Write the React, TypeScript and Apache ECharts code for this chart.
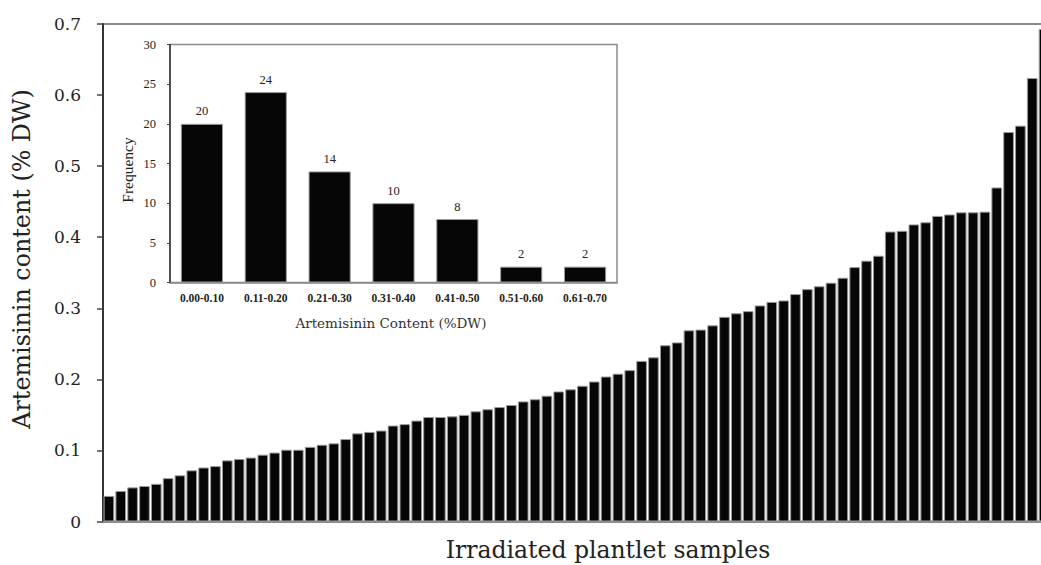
import React, { useEffect, useRef } from "react";
import * as echarts from "echarts";

// Main chart: artemisinin content (% DW) of 80 irradiated plantlet samples, sorted ascending
const contentValues: number[] = [
  0.036, 0.043, 0.048, 0.050, 0.053, 0.061, 0.065, 0.072, 0.076, 0.078,
  0.086, 0.088, 0.090, 0.094, 0.097, 0.101, 0.101, 0.105, 0.108, 0.110,
  0.116, 0.124, 0.126, 0.128, 0.135, 0.137, 0.142, 0.147, 0.147, 0.148,
  0.150, 0.155, 0.158, 0.161, 0.164, 0.169, 0.172, 0.177, 0.183, 0.186,
  0.191, 0.197, 0.204, 0.208, 0.213, 0.226, 0.231, 0.248, 0.252, 0.269,
  0.270, 0.276, 0.288, 0.293, 0.296, 0.304, 0.309, 0.311, 0.320, 0.327,
  0.331, 0.336, 0.343, 0.358, 0.367, 0.374, 0.408, 0.409, 0.418, 0.421,
  0.430, 0.432, 0.435, 0.435, 0.436, 0.470, 0.548, 0.557, 0.624, 0.693,
];
const sampleIds: string[] = contentValues.map((_, i) => `S${i + 1}`);

// Inset histogram
const binLabels: string[] = [
  "0.00-0.10", "0.11-0.20", "0.21-0.30", "0.31-0.40", "0.41-0.50", "0.51-0.60", "0.61-0.70",
];
const binFrequency: number[] = [20, 24, 14, 10, 8, 2, 2];

const mainTitleX = "Irradiated plantlet samples";
const mainTitleY = "Artemisinin content (% DW)";
const insetTitleX = "Artemisinin Content (%DW)";
const insetTitleY = "Frequency";

const SERIF = "'DejaVu Serif', serif";
const TIMES = "'Liberation Serif', serif";

export default function App() {
  const ref = useRef<HTMLDivElement>(null);
  useEffect(() => {
    if (!ref.current) return;
    const chart = echarts.init(ref.current, undefined, { renderer: "svg" });
    chart.setOption({
      animation: false,
      backgroundColor: "#ffffff",
      grid: [
        {
          left: 103,
          top: 24,
          bottom: 43.5,
          width: 947,
          outerBoundsMode: "none",
          show: true,
          borderColor: "#8a8a8a",
          borderWidth: 2,
        },
        {
          left: 170,
          top: 44.5,
          width: 447,
          height: 238,
          outerBoundsMode: "none",
          show: true,
          borderColor: "#8a8a8a",
          borderWidth: 1.5,
          backgroundColor: "#ffffff",
          z: 10,
        },
      ],
      xAxis: [
        {
          type: "category",
          gridIndex: 0,
          data: sampleIds,
          axisLine: { lineStyle: { color: "#8a8a8a", width: 2 } },
          axisTick: { show: false },
          axisLabel: { show: false },
        },
        {
          type: "category",
          gridIndex: 1,
          data: binLabels,
          z: 10,
          axisLine: { lineStyle: { color: "#8a8a8a", width: 1.5 } },
          axisTick: { show: false },
          axisLabel: {
            interval: 0,
            margin: 9,
            fontFamily: TIMES,
            fontWeight: "bold",
            fontSize: 11.5,
            color: "#222",
          },
        },
      ],
      yAxis: [
        {
          type: "value",
          gridIndex: 0,
          min: 0,
          max: 0.7,
          interval: 0.1,
          axisLine: { show: true, lineStyle: { color: "#333", width: 2 } },
          axisTick: { show: true, length: 6, lineStyle: { color: "#444", width: 1.5 } },
          splitLine: { show: false },
          axisLabel: {
            margin: 22,
            fontFamily: SERIF,
            fontSize: 17,
            color: "#222",
            formatter: (v: number) => (v === 0 ? "0" : v.toFixed(1)),
          },
        },
        {
          type: "value",
          gridIndex: 1,
          min: 0,
          max: 30,
          interval: 5,
          z: 10,
          axisLine: { show: true, lineStyle: { color: "#333", width: 1.5 } },
          axisTick: { show: true, length: 3, lineStyle: { color: "#444" } },
          splitLine: { show: false },
          axisLabel: {
            margin: 14,
            fontFamily: TIMES,
            fontSize: 12.5,
            color: "#222",
          },
        },
      ],
      series: [
        {
          type: "bar",
          xAxisIndex: 0,
          yAxisIndex: 0,
          data: contentValues,
          barCategoryGap: "10%",
          itemStyle: { color: "#060606", borderColor: "#9a9a9a", borderWidth: 1 },
        },
        {
          type: "bar",
          xAxisIndex: 1,
          yAxisIndex: 1,
          data: binFrequency,
          barCategoryGap: "34%",
          z: 11,
          itemStyle: { color: "#060606", borderColor: "#9a9a9a", borderWidth: 1 },
          label: {
            show: true,
            position: "top",
            distance: 6,
            fontFamily: TIMES,
            fontSize: 12.5,
            color: "#222222",
          },
        },
      ],
      graphic: [
        {
          type: "text",
          x: 608,
          y: 550,
          style: {
            text: mainTitleX,
            fontFamily: SERIF,
            fontSize: 23.5,
            fill: "#222",
            align: "center",
            verticalAlign: "middle",
          },
        },
        {
          type: "text",
          x: 22,
          y: 259,
          rotation: Math.PI / 2,
          style: {
            text: mainTitleY,
            fontFamily: SERIF,
            fontSize: 23.8,
            fill: "#222",
            align: "center",
            verticalAlign: "middle",
          },
        },
        {
          type: "text",
          x: 391,
          y: 323,
          z: 20,
          style: {
            text: insetTitleX,
            fontFamily: SERIF,
            fontSize: 13.5,
            fill: "#333",
            align: "center",
            verticalAlign: "middle",
          },
        },
        {
          type: "text",
          x: 127,
          y: 170,
          z: 20,
          rotation: Math.PI / 2,
          style: {
            text: insetTitleY,
            fontFamily: TIMES,
            fontSize: 15.5,
            fill: "#222",
            align: "center",
            verticalAlign: "middle",
          },
        },
      ],
    });
    return () => chart.dispose();
  }, []);
  return (
    <div
      style={{
        position: "absolute",
        left: 0,
        top: 0,
        width: 1041,
        height: 565,
        overflow: "hidden",
        background: "#fff",
      }}
    >
      <div ref={ref} style={{ width: 1050, height: 565 }} />
    </div>
  );
}
